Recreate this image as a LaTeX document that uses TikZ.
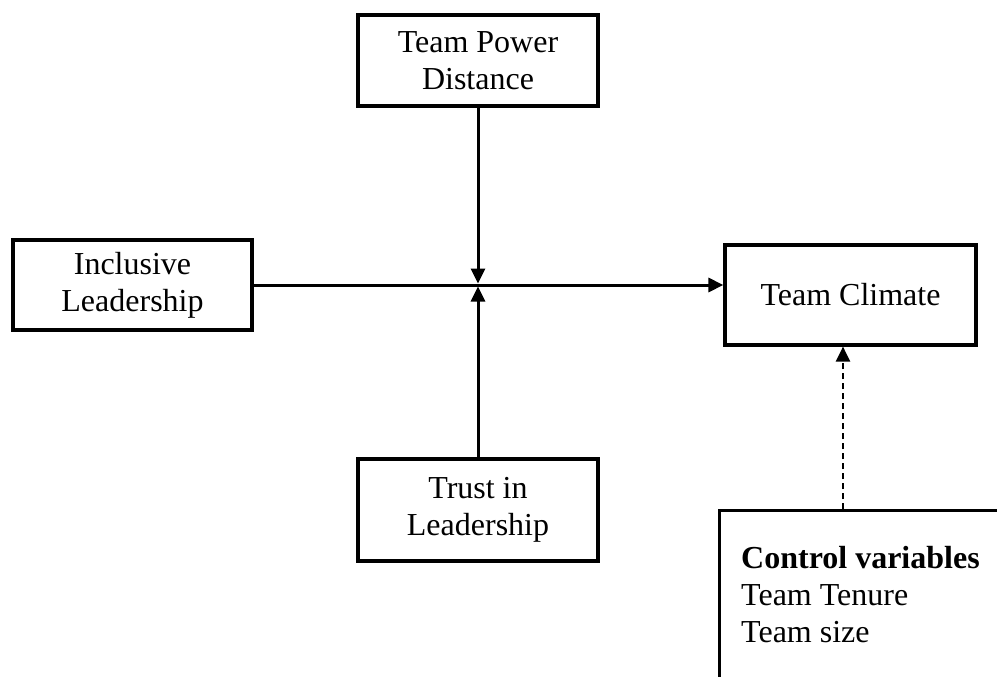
\documentclass[tikz,border=0pt]{standalone}
\usepackage{fontspec}
\setmainfont{Liberation Serif}
\usetikzlibrary{positioning, arrows.meta}

\begin{document}
\begin{tikzpicture}[x=1pt, y=-1pt, >={Triangle[length=15pt, width=14pt]},
	block/.style={draw, rectangle, line width=3.2pt, align=center, inner sep=0pt, font=\fontsize{32}{37}\selectfont},
	link/.style={->, line width=3pt}]
	
	\useasboundingbox (0,0) rectangle (997,677);
	\clip (0,0) rectangle (997,677);
	
	% Define nodes
	\node [block, minimum width=240pt, minimum height=91pt] (power) at (478,60.5) {Team Power \\ Distance};
	\node [block, minimum width=239pt, minimum height=90pt] (inclusive) at (132.5,285) {Inclusive \\ Leadership};
	\node [block, minimum width=251pt, minimum height=100pt] (climate) at (850.5,295) {Team Climate};
	\node [block, minimum width=240pt, minimum height=102pt] (trust) at (478,510) {Trust in \\ Leadership};
	\node [block, anchor=north west, minimum width=320pt, minimum height=220pt] (control) at (718,509) {};
	\node [anchor=north west, align=left, inner sep=0pt, font=\fontsize{32}{37}\selectfont] (controltext) at (741,546) {\textbf{Control variables} \\ Team Tenure \\ Team size};
	
	\coordinate (cross) at (478,285);
	\coordinate (controltop) at (843,509);
	
	% Arrows between blocks
	\draw[link] (inclusive.east) -- (climate.west |- inclusive.east);
	\draw[link, shorten >=1.5pt] (power) -- (cross);
	\draw[link, shorten >=1.5pt] (trust) -- (cross);
	\draw[->, line width=2.2pt, dash pattern=on 6pt off 4pt] (controltop) -- (controltop |- climate.south);
\end{tikzpicture}
\end{document}
